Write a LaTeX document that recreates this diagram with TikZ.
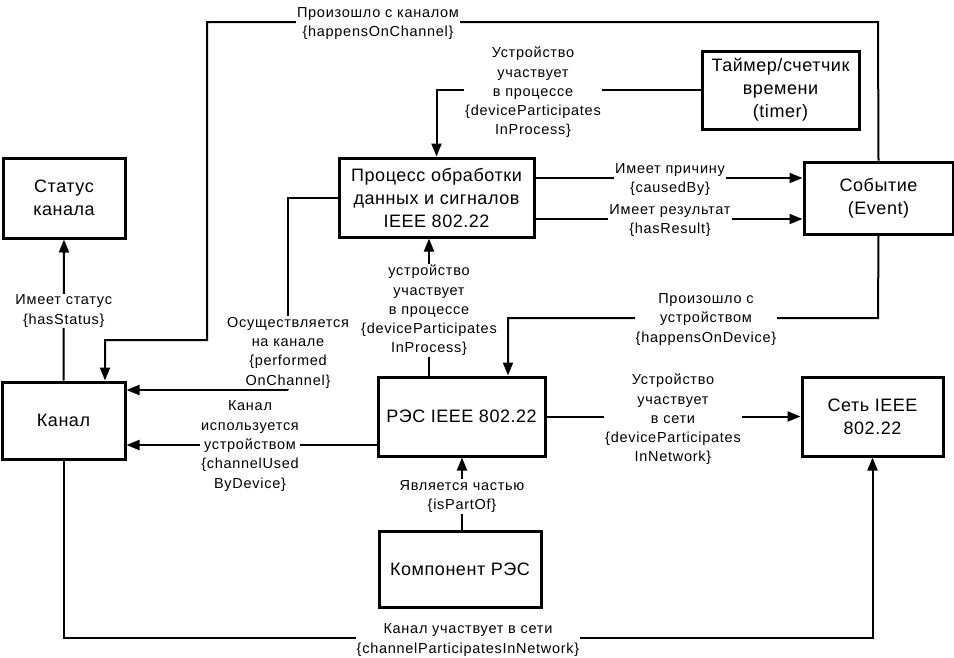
\documentclass[tikz,border=0pt]{standalone}
\usepackage{fontspec}
\setmainfont{Liberation Sans}
\newfontfamily\boxfont[LetterSpace=3]{Liberation Sans}
\newfontfamily\lblfont[LetterSpace=5]{Liberation Sans}
\usetikzlibrary{arrows.meta}
\begin{document}
\begin{tikzpicture}[x=1pt,y=-1pt,
  box/.style={draw, line width=3pt, align=center, font=\boxfont\fontsize{18}{23}\selectfont, inner sep=2pt},
  lbl/.style={fill=white, align=center, font=\lblfont\fontsize{14.5}{19.3}\selectfont, inner sep=1pt, yshift=-2.5pt},
  conn/.style={line width=2pt},
  arr/.style={conn, -{Triangle[length=13pt,width=10pt]}}]
\useasboundingbox (0,0) rectangle (954,657);
% nodes
\node[box, minimum width=122pt, minimum height=80pt] (stat) at (64,198) {Статус\\канала};
\node[box, minimum width=195pt, minimum height=79pt] (proc) at (436.5,197.5) {Процесс обработки\\данных и сигналов\\IEEE 802.22};
\node[box, minimum width=157pt, minimum height=78pt] (timer) at (780.5,90) {Таймер/счетчик\\времени\\(timer)};
\node[box, minimum width=149pt, minimum height=72pt] (event) at (878.5,198) {Событие\\(Event)};
\node[box, minimum width=123pt, minimum height=77pt] (chan) at (63.5,420.5) {Канал};
\node[box, minimum width=167pt, minimum height=79pt] (res) at (461.5,416.5) {РЭС IEEE 802.22};
\node[box, minimum width=162pt, minimum height=76pt] (comp) at (460,569) {Компонент РЭС};
\node[box, minimum width=141pt, minimum height=79pt] (net) at (872.5,416.5) {Сеть IEEE\\802.22};
% helper coordinates
\coordinate (hc1) at (878,22);
\coordinate (hc2) at (207,22);
\coordinate (hc3) at (207,340);
\coordinate (hc4) at (105,340);
\coordinate (hd1) at (878,318);
\coordinate (hd2) at (508,318);
\coordinate (x429) at (429,0);
\coordinate (x462) at (462,0);
\coordinate (pc0) at (288,197.5);
\coordinate (pc1) at (288,390);
\coordinate (b1) at (0,638);
% 1 hasStatus
\draw[arr] (chan.north) -- (stat.south)
  node[lbl, pos=0.51] {Имеет статус\\\{hasStatus\}};
% 2 happensOnChannel
\draw[arr] (event.north) -- (hc1) -- (hc2) -- (hc3) -- (hc4) -- (chan.north -| hc4);
\node[lbl] (lhoc) at (378,21) {Произошло с каналом\\\{happensOnChannel\}};
% 3 timer -> proc
\draw[arr] (timer.west) -| (proc.north);
\node[lbl] (ltim) at (533,90) {Устройство\\участвует\\в процессе\\\{deviceParticipates\\InProcess\}};
% 4 causedBy / hasResult
\draw[arr] ([yshift=19.5pt]proc.east) coordinate (cb) -- (cb -| event.west);
\node[lbl] (lcb) at (670,177) {Имеет причину\\\{causedBy\}};
\draw[arr] ([yshift=-21.5pt]proc.east) coordinate (hr) -- (hr -| event.west);
\node[lbl] (lhr) at (670,218) {Имеет результат\\\{hasResult\}};
% 5 happensOnDevice
\draw[arr] (event.south) -- (hd1) -- (hd2) -- (res.north -| hd2);
\node[lbl] (lhod) at (706,317) {Произошло с\\устройством\\\{happensOnDevice\}};
% 6 res -> proc
\draw[arr] (res.north -| x429) -- (proc.south -| x429);
\node[lbl] (ldpp) at (429,308) {устройство\\участвует\\в процессе\\\{deviceParticipates\\InProcess\}};
% 7 performedOnChannel
\draw[conn] (proc.west) -- (pc0) -- (pc1);
\node[lbl] (lpoc) at (288,350) {Осуществляется\\на канале\\\{performed\\OnChannel\}};
\draw[arr] (pc1) -- (pc1 -| chan.east);
% 8 channelUsedByDevice
\draw[arr] ([yshift=-28.5pt]res.west) coordinate (ub) -- (ub -| chan.east);
\node[lbl] (lcub) at (250,443.5) {Канал\\используется\\устройством\\\{channelUsed\\ByDevice\}};
% 9 res -> net
\draw[arr] (res.east) -- (net.west);
\node[lbl] (ldpn) at (673,417) {Устройство\\участвует\\в сети\\\{deviceParticipates\\InNetwork\}};
% 10 isPartOf
\draw[arr] (comp.north -| x462) -- (res.south -| x462);
\node[lbl] (lipo) at (462,494) {Является частью\\\{isPartOf\}};
% 11 channelParticipatesInNetwork
\draw[arr] (chan.south) |- (b1 -| net.south) -- (net.south);
\node[lbl] (lcpn) at (468,637.5) {Канал участвует в сети\\\{channelParticipatesInNetwork\}};
\end{tikzpicture}
\end{document}
